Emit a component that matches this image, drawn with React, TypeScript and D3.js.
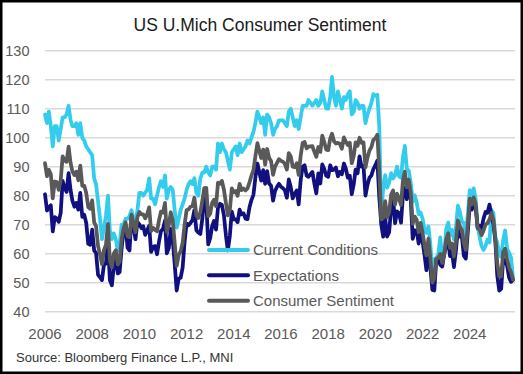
import React from "react";
import * as d3 from "d3";

// Monthly observations, Jan 2006 – Nov 2025
const startMonth = new Date(2006, 0, 1);
const endMonth = new Date(2025, 11, 1);
const months = d3.timeMonth.range(startMonth, endMonth);

const currentConditions = [
  108, 105, 109, 104, 97, 104, 104, 99, 103, 107, 107, 108,
  111, 106, 104, 104, 105, 101, 105, 100, 99, 97, 96, 95,
  94, 86, 84, 78, 72, 65, 69, 73, 80, 68, 65, 67,
  65, 61, 63, 70, 70, 72, 72, 73, 75, 72, 71, 75,
  81, 81, 80, 81, 82, 86, 79, 79, 77, 80, 83, 85,
  83, 87, 79, 82, 83, 82, 75, 69, 72, 75, 77, 79,
  82, 84, 85, 84, 86, 81, 80, 86, 88, 88, 90, 88,
  87, 90, 90, 89, 98, 95, 98, 96, 95, 92, 89, 95,
  96, 97, 94, 98, 95, 96, 97, 99, 98, 100, 102, 105,
  109, 107, 105, 107, 101, 108, 107, 105, 101, 103, 104, 106,
  106, 106, 105, 104, 109, 110, 107, 104, 106, 103, 107, 111,
  111, 111, 113, 112, 111, 112, 113, 111, 112, 116, 113, 110,
  110, 114, 121, 114, 111, 116, 113, 110, 114, 113, 115, 116,
  108, 109, 113, 112, 110, 111, 111, 105, 108, 110, 112, 115,
  114.4, 114.8, 103.7, 74.3, 82.3, 87.1, 82.8, 84.5, 87.8, 85.9, 87.0, 90.0,
  86.7, 86.2, 93.0, 97.2, 89.4, 88.6, 84.5, 77.9, 80.1, 77.7, 73.6, 74.2,
  72.0, 68.2, 67.2, 69.4, 63.3, 53.8, 58.1, 58.6, 59.7, 65.6, 58.8, 59.4,
  68.4, 70.7, 66.3, 68.2, 64.9, 69.0, 76.6, 74.4, 71.1, 70.6, 65.8, 73.3,
  81.9, 79.4, 82.5, 79.0, 69.6, 65.9, 62.7, 61.3, 62.7, 64.9, 63.9, 75.1,
  74.0, 65.7, 63.8, 59.8, 58.9, 64.8, 68.0, 61.7, 60.4, 58.6, 51.1,
];

const expectations = [
  80.5, 74.9, 76.0, 76.7, 67.7, 72.6, 72.2, 71.0, 74.1, 85.1, 82.6, 81.3,
  87.8, 81.9, 78.3, 76.2, 77.5, 75.2, 81.0, 72.7, 73.4, 70.6, 63.4, 63.1,
  68.3, 61.1, 60.3, 52.7, 51.9, 50.9, 56.2, 56.6, 64.0, 50.9, 49.1, 55.7,
  58.8, 53.2, 53.7, 61.9, 67.8, 70.0, 62.1, 61.1, 72.6, 69.6, 65.0, 70.9,
  70.1, 68.8, 69.5, 66.5, 68.1, 69.6, 60.6, 62.4, 62.6, 59.8, 64.2, 67.8,
  68.5, 71.4, 60.1, 61.9, 68.6, 64.7, 56.5, 47.3, 51.4, 51.7, 55.2, 64.0,
  70.4, 69.8, 70.6, 71.6, 75.0, 68.1, 67.3, 66.8, 72.1, 79.1, 78.0, 63.2,
  65.4, 69.6, 71.3, 68.3, 75.9, 77.2, 76.8, 73.2, 66.3, 61.1, 66.2, 74.5,
  71.8, 71.8, 70.9, 75.2, 73.6, 73.9, 72.1, 71.9, 76.0, 78.5, 80.3, 86.2,
  91.1, 88.0, 85.2, 88.8, 84.1, 88.5, 84.2, 83.4, 78.3, 81.6, 83.1, 84.1,
  83.1, 82.6, 81.9, 79.3, 85.6, 82.9, 79.1, 80.6, 81.8, 77.0, 85.4, 90.0,
  90.5, 86.9, 86.5, 87.4, 88.2, 84.2, 80.8, 87.7, 84.2, 90.8, 89.2, 86.9,
  86.5, 90.5, 88.8, 89.0, 89.7, 86.7, 88.2, 87.4, 91.1, 89.3, 86.2, 86.9,
  80.5, 84.1, 89.0, 87.7, 93.6, 90.0, 90.3, 80.0, 83.7, 86.2, 87.0, 89.2,
  90.5, 92.1, 79.7, 70.1, 65.9, 72.3, 65.9, 67.4, 75.6, 79.2, 70.5, 74.6,
  74.0, 70.7, 79.7, 82.7, 78.8, 83.5, 79.0, 65.1, 68.1, 67.9, 63.5, 68.3,
  64.1, 59.4, 54.3, 62.5, 55.2, 47.5, 47.3, 58.0, 58.0, 56.2, 55.6, 59.9,
  62.7, 64.7, 59.2, 60.5, 55.4, 61.3, 68.3, 65.9, 66.0, 59.3, 58.3, 67.4,
  77.1, 75.2, 77.4, 76.0, 68.8, 69.6, 68.8, 72.1, 74.4, 74.1, 76.9, 73.3,
  70.2, 64.0, 52.6, 47.3, 47.9, 58.1, 57.7, 55.9, 51.7, 50.3, 51.0,
];

const consumerSentiment = [
  91.2, 86.7, 88.9, 87.4, 79.1, 84.9, 84.7, 82.0, 85.4, 93.6, 92.1, 91.7,
  96.9, 91.3, 88.4, 87.1, 88.3, 85.3, 90.4, 83.4, 83.4, 80.9, 76.1, 75.5,
  78.4, 70.8, 69.5, 62.6, 59.8, 56.4, 61.2, 63.0, 70.3, 57.6, 55.3, 60.1,
  61.2, 56.3, 57.3, 65.1, 68.7, 70.8, 66.0, 65.7, 73.5, 70.6, 67.4, 72.5,
  74.4, 73.6, 73.6, 72.2, 73.6, 76.0, 67.8, 68.9, 68.2, 67.7, 71.6, 74.5,
  74.2, 77.5, 67.5, 69.8, 74.3, 71.5, 63.7, 55.8, 59.5, 60.8, 63.7, 69.9,
  75.0, 75.3, 76.2, 76.4, 79.3, 73.2, 72.3, 74.3, 78.3, 82.6, 82.7, 72.9,
  73.8, 77.6, 78.6, 76.4, 84.5, 84.1, 85.1, 82.1, 77.5, 73.2, 75.1, 82.5,
  81.2, 81.6, 80.0, 84.1, 81.9, 82.5, 81.8, 82.5, 84.6, 86.9, 88.8, 93.6,
  98.1, 95.4, 93.0, 95.9, 90.7, 96.1, 93.1, 91.9, 87.2, 90.0, 91.3, 92.6,
  92.0, 91.7, 91.0, 89.0, 94.7, 93.5, 90.0, 89.8, 91.2, 87.2, 93.8, 98.2,
  98.5, 96.3, 96.9, 97.0, 97.1, 95.1, 93.4, 96.8, 95.1, 100.7, 98.5, 95.9,
  95.7, 99.7, 101.4, 98.8, 98.0, 98.2, 97.9, 96.2, 100.1, 98.6, 97.5, 98.3,
  91.2, 93.8, 98.4, 97.2, 100.0, 98.2, 98.4, 89.8, 93.2, 95.5, 96.8, 99.3,
  99.8, 101.0, 89.1, 71.8, 72.3, 78.1, 72.5, 74.1, 80.4, 81.8, 76.9, 80.7,
  79.0, 76.8, 84.9, 88.3, 82.9, 85.5, 81.2, 70.3, 72.8, 71.7, 67.4, 70.6,
  67.2, 62.8, 59.4, 65.2, 58.4, 50.0, 51.5, 58.2, 58.6, 59.9, 56.8, 59.7,
  64.9, 67.0, 62.0, 63.5, 59.0, 64.2, 71.5, 69.4, 68.1, 63.8, 61.3, 69.7,
  79.0, 76.9, 79.4, 77.2, 69.1, 68.2, 66.4, 67.9, 70.1, 70.5, 71.8, 74.0,
  71.7, 64.7, 57.0, 52.2, 52.2, 60.7, 61.7, 58.2, 55.1, 53.6, 51.0,
];

const seriesNames = ["Current Conditions", "Expectations", "Consumer Sentiment"];
const seriesColors = ["#33CCEC", "#10107E", "#595959"];
const yTicks = [40, 50, 60, 70, 80, 90, 100, 110, 120, 130];
const xTickYears = [2006, 2008, 2010, 2012, 2014, 2016, 2018, 2020, 2022, 2024];

const W = 523;
const H = 374;
const FONT = "'Liberation Sans', Arial, sans-serif";

export default function App() {
  const x = d3.scaleTime().domain([startMonth, endMonth]).range([45, 515]);
  const y = d3.scaleLinear().domain([40, 130]).range([311.7, 50.7]);

  const allSeries = [currentConditions, expectations, consumerSentiment];
  const line = d3
    .line<number>()
    .x((_, i) => x(months[i]))
    .y((v) => y(v));

  const legendRows = [250, 275.3, 300.7];

  return (
    <div style={{ position: "fixed", left: 0, top: 0 }}>
      <svg width={W} height={H} style={{ display: "block", background: "#fff" }}>
        <rect x={0} y={0} width={W} height={H} fill="#fff" />
        {yTicks.map((t) => (
          <g key={t}>
            <line x1={45} x2={515} y1={y(t)} y2={y(t)} stroke="#d9d9d9" strokeWidth={1.5} />
            <text
              x={29.5}
              y={y(t) + 5}
              textAnchor="end"
              fontFamily={FONT}
              fontSize={14.5}
              fill="#595959"
            >
              {t}
            </text>
          </g>
        ))}
        {xTickYears.map((yr) => (
          <text
            key={yr}
            x={x(new Date(yr, 0, 1))}
            y={339.3}
            textAnchor="middle"
            fontFamily={FONT}
            fontSize={15}
            fill="#595959"
          >
            {yr}
          </text>
        ))}
        {allSeries.map((s, i) => (
          <path
            key={seriesNames[i]}
            d={line(s) || ""}
            fill="none"
            stroke={seriesColors[i]}
            strokeWidth={3.75}
            strokeLinejoin="round"
            strokeLinecap="round"
          />
        ))}
        {seriesNames.map((n, i) => (
          <g key={n}>
            <line
              x1={209}
              x2={248}
              y1={legendRows[i]}
              y2={legendRows[i]}
              stroke={seriesColors[i]}
              strokeWidth={4}
              strokeLinecap="round"
            />
            <text
              x={253}
              y={legendRows[i] + 5.3}
              fontFamily={FONT}
              fontSize={15}
              fill="#595959"
            >
              {n}
            </text>
          </g>
        ))}
        <text
          x={260}
          y={31}
          textAnchor="middle"
          fontFamily={FONT}
          fontSize={17.5}
          fill="#1a1a1a"
        >
          US U.Mich Consumer Sentiment
        </text>
        <text x={16} y={362} fontFamily={FONT} fontSize={13} fill="#333333">
          Source: Bloomberg Finance L.P., MNI
        </text>
        <rect
          x={1.25}
          y={1.25}
          width={W - 2.5}
          height={H - 2.5}
          fill="none"
          stroke="#000"
          strokeWidth={2.5}
        />
      </svg>
    </div>
  );
}
